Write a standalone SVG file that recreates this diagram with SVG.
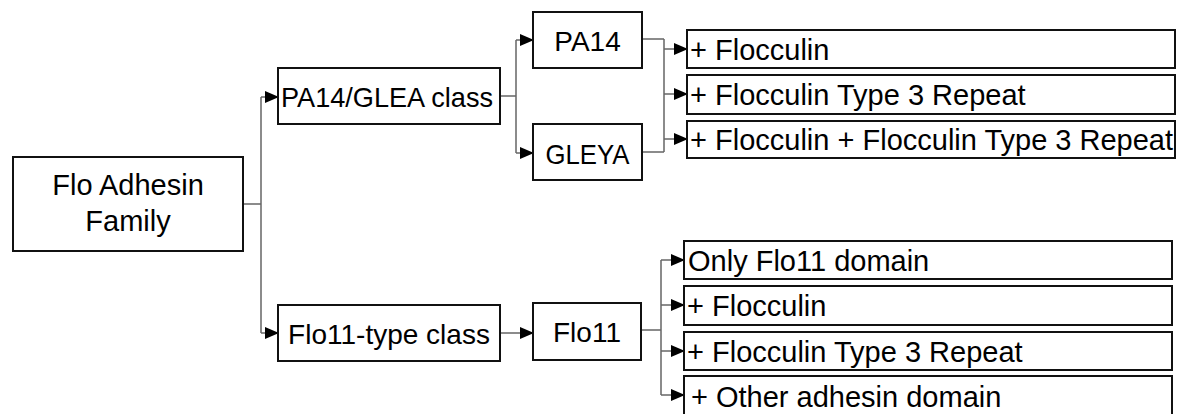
<svg xmlns="http://www.w3.org/2000/svg" width="1179" height="414" viewBox="0 0 1179 414">
<style>
.box{fill:#fff;stroke:#111;stroke-width:2}
.t{font-family:"Liberation Sans",Arial,sans-serif;font-size:28px;fill:#000}
.r{font-size:29px}
.c{text-anchor:middle}
.ln{fill:none;stroke:#666;stroke-width:1.5}
.ar{fill:none;stroke:#666;stroke-width:1.5;marker-end:url(#ah)}
</style>
<defs>
<marker id="ah" markerUnits="userSpaceOnUse" markerWidth="15" markerHeight="13" refX="13" refY="6.5" orient="auto">
<path d="M0,0.5 L14,6.5 L0,12.5 z" fill="#000"/>
</marker>
</defs>
<rect width="1179" height="414" fill="#fff"/>
<g id="connectors">
<path class="ln" d="M243,204 H261 M261,97 V333"/>
<path class="ar" d="M261,97 H278"/>
<path class="ar" d="M261,333 H278"/>
<path class="ln" d="M500,96 H516 M516,40 V153"/>
<path class="ar" d="M516,40 H533"/>
<path class="ar" d="M516,153 H533"/>
<path class="ln" d="M642,39 H664 M642,152 H664 M664,39 V152"/>
<path class="ar" d="M664,49 H687"/>
<path class="ar" d="M664,94 H687"/>
<path class="ar" d="M664,139 H687"/>
<path class="ar" d="M500,333 H533"/>
<path class="ln" d="M641,330 H661 M661,260 V395"/>
<path class="ar" d="M661,260 H684"/>
<path class="ar" d="M661,305 H684"/>
<path class="ar" d="M661,351 H684"/>
<path class="ar" d="M661,395 H684"/>
</g>
<g id="flo-family">
<rect class="box" x="13" y="157" width="230" height="94"/>
<text class="t r c" x="128" y="195">Flo Adhesin</text>
<text class="t r c" x="128" y="231">Family</text>
</g>
<g id="pa14-glea-class">
<rect class="box" x="278" y="68" width="222" height="56"/>
<text class="t c" x="387" y="107" textLength="212" lengthAdjust="spacingAndGlyphs">PA14/GLEA class</text>
</g>
<g id="flo11-type-class">
<rect class="box" x="278" y="305" width="222" height="56"/>
<text class="t c" x="389" y="344">Flo11-type class</text>
</g>
<g id="pa14">
<rect class="box" x="533" y="12" width="109" height="56"/>
<text class="t c" x="587.5" y="51">PA14</text>
</g>
<g id="gleya">
<rect class="box" x="533" y="124" width="109" height="56"/>
<text class="t c" x="587.5" y="164" textLength="84" lengthAdjust="spacingAndGlyphs">GLEYA</text>
</g>
<g id="flo11">
<rect class="box" x="533" y="303" width="108" height="57"/>
<text class="t c" x="587" y="342">Flo11</text>
</g>
<g id="pa-flocculin">
<rect class="box" x="687" y="30" width="488" height="38"/>
<text class="t r" x="690" y="60">+ Flocculin</text>
</g>
<g id="pa-ft3r">
<rect class="box" x="687" y="75" width="488" height="39"/>
<text class="t r" x="690" y="105">+ Flocculin Type 3 Repeat</text>
</g>
<g id="pa-both">
<rect class="box" x="687" y="121" width="488" height="37"/>
<text class="t r" x="690" y="150">+ Flocculin + Flocculin Type 3 Repeat</text>
</g>
<g id="flo11-only">
<rect class="box" x="684" y="241" width="488" height="38"/>
<text class="t r" x="688" y="271">Only Flo11 domain</text>
</g>
<g id="flo11-flocculin">
<rect class="box" x="684" y="286" width="488" height="39"/>
<text class="t r" x="687" y="316">+ Flocculin</text>
</g>
<g id="flo11-ft3r">
<rect class="box" x="684" y="332" width="488" height="38"/>
<text class="t r" x="687" y="362">+ Flocculin Type 3 Repeat</text>
</g>
<g id="flo11-other">
<rect class="box" x="684" y="376" width="488" height="42"/>
<text class="t r" x="691" y="407">+ Other adhesin domain</text>
</g>
</svg>
